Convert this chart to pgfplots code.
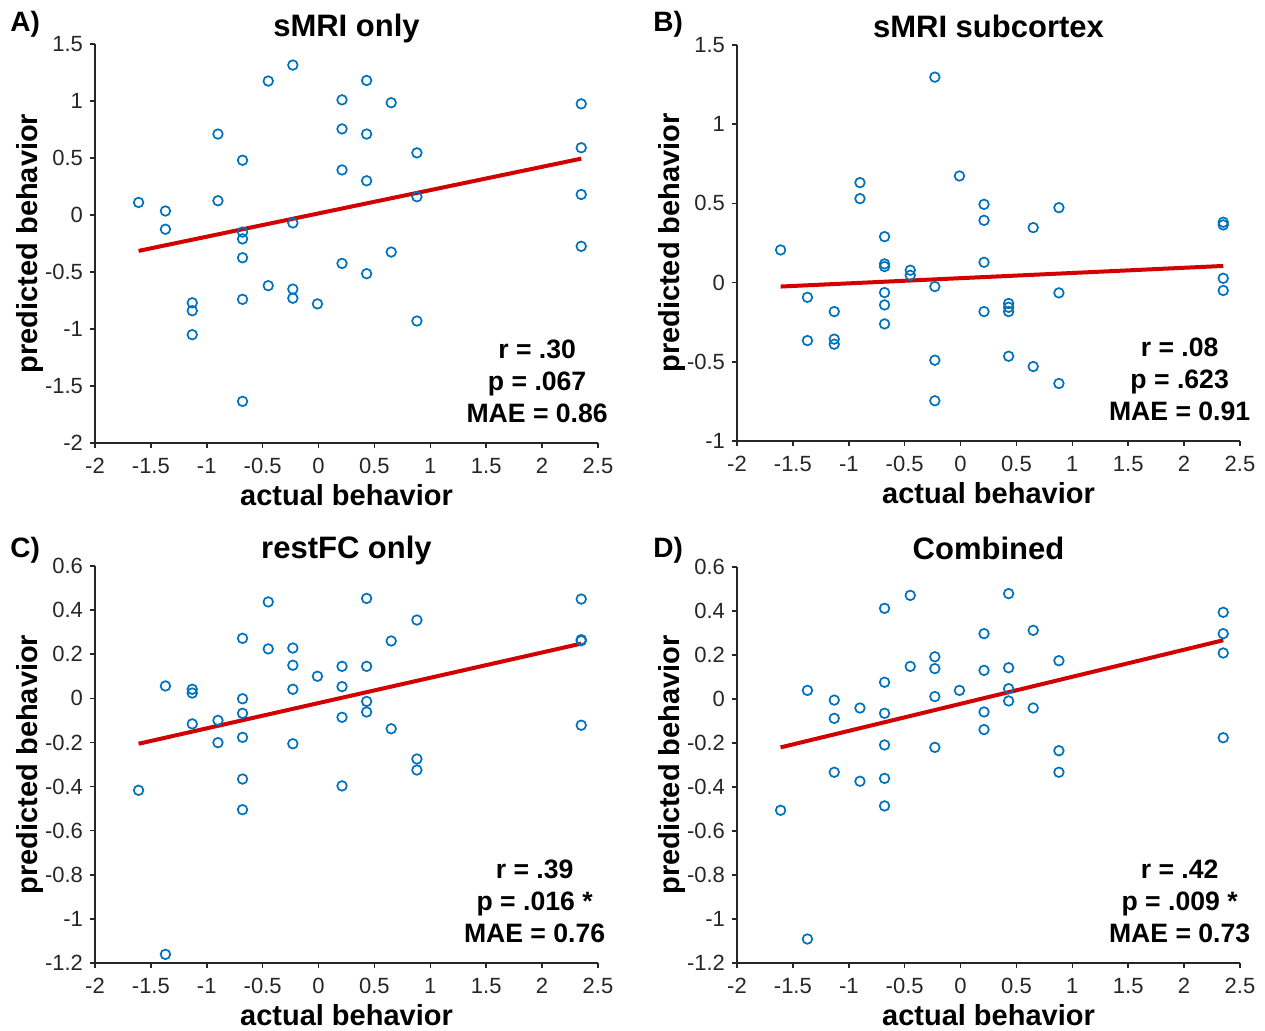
\documentclass[border=0pt]{standalone}
\usepackage{fontspec}
\setmainfont{Liberation Sans}
\usepackage{pgfplots}
\pgfplotsset{compat=1.18}
\definecolor{ptblue}{RGB}{0,114,189}
\definecolor{fitred}{RGB}{210,0,0}
\definecolor{axgray}{RGB}{38,38,38}

\pgfplotsset{
  panel/.style={
    scale only axis, width=251.5pt, height=198.5pt, anchor=south west,
    axis lines=left, axis line style={-, axgray, line width=0.9pt},
    tick align=outside, major tick length=2.5pt,
    tick style={axgray, line width=0.8pt},
    xmin=-2, xmax=2.5, xtick={-2,-1.5,-1,-0.5,0,0.5,1,1.5,2,2.5},
    ticklabel style={font=\fontsize{11}{13}\selectfont, text=axgray},
    xticklabel style={yshift=-1.5pt},
    /pgf/number format/assume math mode=true,
    clip=false,
  },
  pts/.style={only marks, mark=o, mark size=2.4pt, mark options={ptblue, line width=0.85pt}},
  fit/.style={no marks, fitred, line width=2pt},
}
\tikzset{
  ttl/.style={font=\fontsize{15.5}{18}\selectfont\bfseries, anchor=base, yshift=3.75pt},
  xlab/.style={font=\fontsize{14.5}{17}\selectfont\bfseries, anchor=base, yshift=-31.5pt},
  ylab/.style={font=\fontsize{14.5}{17}\selectfont\bfseries, anchor=base, xshift=-28.75pt, rotate=90},
  anno/.style={font=\fontsize{13.3}{16}\selectfont\bfseries, anchor=base},
  letter/.style={font=\fontsize{14}{16}\selectfont\bfseries, anchor=base west, inner sep=0pt},
}

\begin{document}
\begin{tikzpicture}
\useasboundingbox (0,0) rectangle (632.5pt,515.5pt);

% A) sMRI only
\begin{axis}[panel, at={(47.5pt,294pt)}, height=199.5pt,
  ymin=-2, ymax=1.5, ytick={-2,-1.5,-1,-0.5,0,0.5,1,1.5}]
\addplot[pts] table {
-1.61 0.11
-1.37 0.035
-1.37 -0.125
-1.13 -0.77
-1.13 -0.84
-1.13 -1.05
-0.90 0.71
-0.90 0.125
-0.68 0.48
-0.68 -0.15
-0.68 -0.21
-0.68 -0.375
-0.68 -0.74
-0.68 -1.635
-0.45 1.175
-0.45 -0.62
-0.23 1.315
-0.23 -0.07
-0.23 -0.65
-0.23 -0.73
-0.01 -0.78
0.21 1.01
0.21 0.755
0.21 0.395
0.21 -0.425
0.43 1.18
0.43 0.71
0.43 0.30
0.43 -0.515
0.65 0.985
0.65 -0.325
0.88 0.545
0.88 0.16
0.88 -0.93
2.35 0.975
2.35 0.59
2.35 0.18
2.35 -0.275
};
\addplot[fit] coordinates {(-1.61,-0.315) (2.35,0.494)};
\node[ttl] at (rel axis cs:0.5,1) {sMRI only};
\node[xlab] at (rel axis cs:0.5,0) {actual behavior};
\node[ylab] at (rel axis cs:0,0.5) {predicted behavior};
\node[anno, yshift=42pt] at (rel axis cs:0.879,0) {r = .30};
\node[anno, yshift=26pt] at (rel axis cs:0.879,0) {p = .067};
\node[anno, yshift=10pt] at (rel axis cs:0.879,0) {MAE = 0.86};
\end{axis}

% B) sMRI subcortex
\begin{axis}[panel, at={(368.5pt,295pt)}, height=198pt,
  ymin=-1, ymax=1.5, ytick={-1,-0.5,0,0.5,1,1.5}]
\addplot[pts] table {
-1.61 0.206
-1.37 -0.093
-1.37 -0.366
-1.13 -0.183
-1.13 -0.357
-1.13 -0.389
-0.90 0.631
-0.90 0.530
-0.68 0.290
-0.68 0.118
-0.68 0.101
-0.68 -0.063
-0.68 -0.141
-0.68 -0.261
-0.45 0.078
-0.45 0.046
-0.23 1.297
-0.23 -0.025
-0.23 -0.490
-0.23 -0.746
-0.01 0.673
0.21 0.494
0.21 0.393
0.21 0.128
0.21 -0.183
0.43 -0.132
0.43 -0.156
0.43 -0.183
0.43 -0.465
0.65 0.347
0.65 -0.530
0.88 0.473
0.88 -0.065
0.88 -0.637
2.35 0.381
2.35 0.364
2.35 0.027
2.35 -0.050
};
\addplot[fit] coordinates {(-1.61,-0.025) (2.35,0.105)};
\node[ttl] at (rel axis cs:0.5,1) {sMRI subcortex};
\node[xlab] at (rel axis cs:0.5,0) {actual behavior};
\node[ylab] at (rel axis cs:0,0.5) {predicted behavior};
\node[anno, yshift=42pt] at (rel axis cs:0.88,0) {r = .08};
\node[anno, yshift=26pt] at (rel axis cs:0.88,0) {p = .623};
\node[anno, yshift=10pt] at (rel axis cs:0.88,0) {MAE = 0.91};
\end{axis}

% C) restFC only
\begin{axis}[panel, at={(47.5pt,34pt)},
  ymin=-1.2, ymax=0.6, ytick={-1.2,-1,-0.8,-0.6,-0.4,-0.2,0,0.2,0.4,0.6}]
\addplot[pts] table {
-1.61 -0.417
-1.37 0.056
-1.37 -1.161
-1.13 0.041
-1.13 0.024
-1.13 -0.116
-0.90 -0.100
-0.90 -0.201
-0.68 0.272
-0.68 -0.002
-0.68 -0.068
-0.68 -0.177
-0.68 -0.366
-0.68 -0.505
-0.45 0.437
-0.45 0.224
-0.23 0.228
-0.23 0.150
-0.23 0.041
-0.23 -0.206
-0.01 0.100
0.21 0.145
0.21 0.053
0.21 -0.086
0.21 -0.397
0.43 0.453
0.43 0.145
0.43 -0.014
0.43 -0.062
0.65 0.260
0.65 -0.138
0.88 0.355
0.88 -0.275
0.88 -0.325
2.35 0.450
2.35 0.261
2.35 0.266
2.35 -0.122
};
\addplot[fit] coordinates {(-1.61,-0.206) (2.35,0.248)};
\node[ttl] at (rel axis cs:0.5,1) {restFC only};
\node[xlab] at (rel axis cs:0.5,0) {actual behavior};
\node[ylab] at (rel axis cs:0,0.5) {predicted behavior};
\node[anno, yshift=42pt] at (rel axis cs:0.874,0) {r = .39};
\node[anno, yshift=26pt] at (rel axis cs:0.874,0) {p = .016 *};
\node[anno, yshift=10pt] at (rel axis cs:0.874,0) {MAE = 0.76};
\end{axis}

% D) Combined
\begin{axis}[panel, at={(368.5pt,34pt)}, height=198pt,
  ymin=-1.2, ymax=0.6, ytick={-1.2,-1,-0.8,-0.6,-0.4,-0.2,0,0.2,0.4,0.6}]
\addplot[pts] table {
-1.61 -0.506
-1.37 0.039
-1.37 -1.091
-1.13 -0.005
-1.13 -0.088
-1.13 -0.333
-0.90 -0.041
-0.90 -0.374
-0.68 0.412
-0.68 0.076
-0.68 -0.065
-0.68 -0.209
-0.68 -0.361
-0.68 -0.486
-0.45 0.471
-0.45 0.148
-0.23 0.192
-0.23 0.138
-0.23 0.011
-0.23 -0.220
-0.01 0.039
0.21 0.297
0.21 0.130
0.21 -0.059
0.21 -0.139
0.43 0.479
0.43 0.142
0.43 0.047
0.43 -0.009
0.65 0.312
0.65 -0.041
0.88 0.174
0.88 -0.235
0.88 -0.333
2.35 0.394
2.35 0.297
2.35 0.209
2.35 -0.176
};
\addplot[fit] coordinates {(-1.61,-0.220) (2.35,0.267)};
\node[ttl] at (rel axis cs:0.5,1) {Combined};
\node[xlab] at (rel axis cs:0.5,0) {actual behavior};
\node[ylab] at (rel axis cs:0,0.5) {predicted behavior};
\node[anno, yshift=42pt] at (rel axis cs:0.88,0) {r = .42};
\node[anno, yshift=26pt] at (rel axis cs:0.88,0) {p = .009 *};
\node[anno, yshift=10pt] at (rel axis cs:0.88,0) {MAE = 0.73};
\end{axis}

\node[letter] at (5pt,499.5pt) {A)};
\node[letter] at (326.5pt,499.5pt) {B)};
\node[letter] at (5pt,236.5pt) {C)};
\node[letter] at (326.5pt,236.5pt) {D)};
\end{tikzpicture}
\end{document}
